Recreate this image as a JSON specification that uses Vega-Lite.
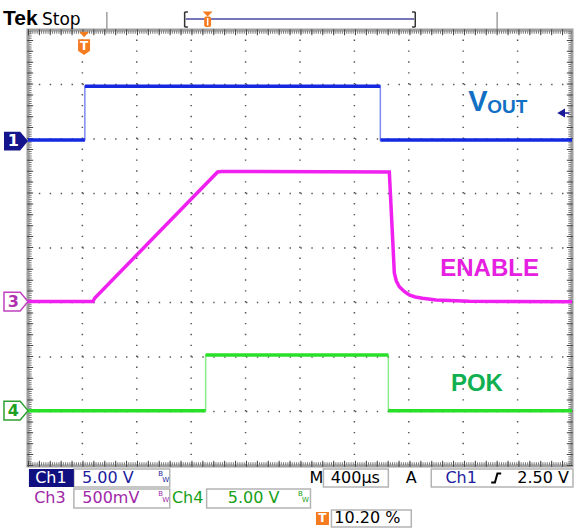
{
  "$schema": "https://vega.github.io/schema/vega-lite/v6.json",
  "width": 580,
  "height": 529,
  "autosize": {"type": "fit", "contains": "padding"},
  "padding": 0,
  "background": "white",
  "config": {"view": {"stroke": null}, "text": {"font": "DejaVu Sans"}},
  "datasets": {
    "traces": [
      {"ch": "CH1", "seg": "a", "i": 0, "x": 0, "y": 5.98},
      {"ch": "CH1", "seg": "a", "i": 1, "x": 1.046, "y": 5.98},
      {"ch": "CH1", "seg": "b", "i": 2, "x": 1.046, "y": 6.97},
      {"ch": "CH1", "seg": "b", "i": 3, "x": 6.477, "y": 6.97},
      {"ch": "CH1", "seg": "c", "i": 4, "x": 6.477, "y": 5.98},
      {"ch": "CH1", "seg": "c", "i": 5, "x": 10, "y": 5.98},
      {"ch": "CH3", "seg": "a", "i": 0, "x": 0, "y": 3.018},
      {"ch": "CH3", "seg": "a", "i": 1, "x": 1.193, "y": 3.018},
      {"ch": "CH3", "seg": "a", "i": 2, "x": 1.229, "y": 3.083},
      {"ch": "CH3", "seg": "a", "i": 3, "x": 3.486, "y": 5.394},
      {"ch": "CH3", "seg": "a", "i": 4, "x": 3.56, "y": 5.404},
      {"ch": "CH3", "seg": "a", "i": 5, "x": 6.642, "y": 5.394},
      {"ch": "CH3", "seg": "a", "i": 6, "x": 6.692, "y": 4.391},
      {"ch": "CH3", "seg": "a", "i": 7, "x": 6.734, "y": 3.541},
      {"ch": "CH3", "seg": "a", "i": 8, "x": 6.771, "y": 3.394},
      {"ch": "CH3", "seg": "a", "i": 9, "x": 6.826, "y": 3.29},
      {"ch": "CH3", "seg": "a", "i": 10, "x": 6.917, "y": 3.202},
      {"ch": "CH3", "seg": "a", "i": 11, "x": 7.009, "y": 3.138},
      {"ch": "CH3", "seg": "a", "i": 12, "x": 7.119, "y": 3.101},
      {"ch": "CH3", "seg": "a", "i": 13, "x": 7.253, "y": 3.077},
      {"ch": "CH3", "seg": "a", "i": 14, "x": 7.499, "y": 3.046},
      {"ch": "CH3", "seg": "a", "i": 15, "x": 8.11, "y": 3.022},
      {"ch": "CH3", "seg": "a", "i": 16, "x": 10, "y": 3.015},
      {"ch": "CH4", "seg": "a", "i": 0, "x": 0, "y": 1.016},
      {"ch": "CH4", "seg": "a", "i": 1, "x": 3.266, "y": 1.016},
      {"ch": "CH4", "seg": "b", "i": 2, "x": 3.266, "y": 2.037},
      {"ch": "CH4", "seg": "b", "i": 3, "x": 6.624, "y": 2.037},
      {"ch": "CH4", "seg": "c", "i": 4, "x": 6.624, "y": 1.016},
      {"ch": "CH4", "seg": "c", "i": 5, "x": 10, "y": 1.016}
    ]
  },
  "encoding": {
    "x": {"field": "x", "type": "quantitative", "scale": {"domain": [-0.51376, 10.12844], "nice": false, "zero": false}, "axis": null},
    "y": {"field": "y", "type": "quantitative", "scale": {"domain": [-1.15596, 8.55046], "nice": false, "zero": false}, "axis": null}
  },
  "layer": [
    {
      "data": {"values": [
        {"x": 1, "y": 0, "x2": 1, "y2": 8}, {"x": 2, "y": 0, "x2": 2, "y2": 8}, {"x": 3, "y": 0, "x2": 3, "y2": 8},
        {"x": 4, "y": 0, "x2": 4, "y2": 8}, {"x": 5, "y": 0, "x2": 5, "y2": 8}, {"x": 6, "y": 0, "x2": 6, "y2": 8},
        {"x": 7, "y": 0, "x2": 7, "y2": 8}, {"x": 8, "y": 0, "x2": 8, "y2": 8}, {"x": 9, "y": 0, "x2": 9, "y2": 8},
        {"x": 0, "y": 1, "x2": 10, "y2": 1}, {"x": 0, "y": 2, "x2": 10, "y2": 2}, {"x": 0, "y": 3, "x2": 10, "y2": 3},
        {"x": 0, "y": 4, "x2": 10, "y2": 4}, {"x": 0, "y": 5, "x2": 10, "y2": 5}, {"x": 0, "y": 6, "x2": 10, "y2": 6},
        {"x": 0, "y": 7, "x2": 10, "y2": 7}
      ]},
      "mark": {"type": "rule", "color": "#555555", "strokeWidth": 1.5, "strokeDash": [1.4, 9.5]},
      "encoding": {"x2": {"field": "x2"}, "y2": {"field": "y2"}}
    },
    {
      "data": {"values": [{"x": 0, "y": 0, "x2": 10, "y2": 8}]},
      "mark": {"type": "rect", "filled": false, "color": "#a0a0a0", "strokeWidth": 3},
      "encoding": {"x2": {"field": "x2"}, "y2": {"field": "y2"}}
    },
    {
      "data": {"values": [
        {"x": 0, "y": 7.96, "x2": 10, "y2": 7.96}, {"x": 0, "y": 0.04, "x2": 10, "y2": 0.04},
        {"x": 0.04, "y": 0, "x2": 0.04, "y2": 8}, {"x": 9.96, "y": 0, "x2": 9.96, "y2": 8}
      ]},
      "mark": {"type": "rule", "color": "#777777", "strokeWidth": 3, "strokeDash": [1, 1.18]},
      "encoding": {"x2": {"field": "x2"}, "y2": {"field": "y2"}}
    },
    {
      "data": {"values": [
        {"x": 0, "y": 7.96, "x2": 10, "y2": 7.96}, {"x": 0, "y": 0.04, "x2": 10, "y2": 0.04},
        {"x": 0.04, "y": 0, "x2": 0.04, "y2": 8}, {"x": 9.96, "y": 0, "x2": 9.96, "y2": 8}
      ]},
      "mark": {"type": "rule", "color": "#444444", "strokeWidth": 6, "strokeDash": [1, 9.9]},
      "encoding": {"x2": {"field": "x2"}, "y2": {"field": "y2"}}
    },
    {
      "data": {"name": "traces"},
      "mark": {"type": "line", "strokeWidth": 1.5},
      "encoding": {
        "color": {"field": "ch", "type": "nominal", "scale": {"domain": ["CH1", "CH3", "CH4"], "range": ["#1428e0", "#f020f0", "#28e028"]}, "legend": null},
        "opacity": {"value": 0.55},
        "order": {"field": "i"}
      }
    },
    {
      "data": {"name": "traces"},
      "mark": {"type": "line", "strokeWidth": 3.5},
      "encoding": {
        "color": {"field": "ch", "type": "nominal", "scale": {"domain": ["CH1", "CH3", "CH4"], "range": ["#1428e0", "#f020f0", "#28e028"]}, "legend": null},
        "detail": {"field": "seg"},
        "order": {"field": "i"}
      }
    },
    {
      "data": {"values": [{"x": 9.8, "y": 6.477}]},
      "mark": {"type": "point", "shape": "triangle-left", "filled": true, "color": "#1a1a9a", "size": 80, "opacity": 1}
    },
    {
      "data": {"values": [{"x": 9.83, "y": 6.477, "x2": 9.95, "y2": 6.477}]},
      "mark": {"type": "rule", "color": "#1a1a9a", "strokeWidth": 1.5},
      "encoding": {"x2": {"field": "x2"}, "y2": {"field": "y2"}}
    },
    {
      "data": {"values": [{"x": -0.22, "y": 5.963}]},
      "mark": {"type": "point", "shape": "M -1 -0.78 L 0.35 -0.78 L 1 0 L 0.35 0.78 L -1 0.78 Z", "filled": true, "color": "#14148c", "size": 576, "opacity": 1}
    },
    {
      "data": {"values": [{"x": -0.22, "y": 3.018}]},
      "mark": {"type": "point", "shape": "M -1 -0.78 L 0.35 -0.78 L 1 0 L 0.35 0.78 L -1 0.78 Z", "filled": true, "fill": "white", "stroke": "#c040c0", "strokeWidth": 1.5, "size": 576, "opacity": 1}
    },
    {
      "data": {"values": [{"x": -0.22, "y": 1.016}]},
      "mark": {"type": "point", "shape": "M -1 -0.78 L 0.35 -0.78 L 1 0 L 0.35 0.78 L -1 0.78 Z", "filled": true, "fill": "white", "stroke": "#30a030", "strokeWidth": 1.5, "size": 576, "opacity": 1}
    },
    {
      "data": {"values": [{"x": -0.27, "y": 5.963, "t": "1"}]},
      "mark": {"type": "text", "color": "white", "fontSize": 16, "fontWeight": "bold", "baseline": "middle", "align": "center"},
      "encoding": {"text": {"field": "t"}}
    },
    {
      "data": {"values": [{"x": -0.27, "y": 3.018, "t": "3"}]},
      "mark": {"type": "text", "color": "#b030b0", "fontSize": 16, "fontWeight": "bold", "baseline": "middle", "align": "center"},
      "encoding": {"text": {"field": "t"}}
    },
    {
      "data": {"values": [{"x": -0.27, "y": 1.016, "t": "4"}]},
      "mark": {"type": "text", "color": "#20a020", "fontSize": 16, "fontWeight": "bold", "baseline": "middle", "align": "center"},
      "encoding": {"text": {"field": "t"}}
    },
    {
      "data": {"values": [{"x": 1.033, "y": 7.917}]},
      "mark": {"type": "point", "shape": "M -1 -0.55 L 1 -0.55 L 0 0.55 Z", "filled": true, "color": "#f47b20", "size": 100, "opacity": 1}
    },
    {
      "data": {"values": [{"x": 1.031, "y": 7.685}]},
      "mark": {"type": "point", "shape": "M -1 -1.3 L 1 -1.3 L 1 0.6 L 0 1.3 L -1 0.6 Z", "filled": true, "color": "#f47b20", "size": 144, "opacity": 1}
    },
    {
      "data": {"values": [{"x": 1.031, "y": 7.70, "t": "T"}]},
      "mark": {"type": "text", "color": "white", "fontSize": 12, "fontWeight": "bold", "baseline": "middle", "align": "center"},
      "encoding": {"text": {"field": "t"}}
    },
    {
      "data": {"values": [{"x": 8.092, "y": 6.514, "t": "V"}]},
      "mark": {"type": "text", "color": "#1270c4", "font": "Liberation Sans", "fontSize": 29, "fontWeight": "bold", "baseline": "alphabetic", "align": "left"},
      "encoding": {"text": {"field": "t"}}
    },
    {
      "data": {"values": [{"x": 8.44, "y": 6.477, "t": "OUT"}]},
      "mark": {"type": "text", "color": "#1270c4", "font": "Liberation Sans", "fontSize": 19, "fontWeight": "bold", "baseline": "alphabetic", "align": "left"},
      "encoding": {"text": {"field": "t"}}
    },
    {
      "data": {"values": [{"x": 7.578, "y": 3.486, "t": "ENABLE"}]},
      "mark": {"type": "text", "color": "#e620e0", "font": "Liberation Sans", "fontSize": 24, "fontWeight": "bold", "baseline": "alphabetic", "align": "left"},
      "encoding": {"text": {"field": "t"}}
    },
    {
      "data": {"values": [{"x": 7.774, "y": 1.382, "t": "POK"}]},
      "mark": {"type": "text", "color": "#10b050", "font": "Liberation Sans", "fontSize": 24, "fontWeight": "bold", "baseline": "alphabetic", "align": "left"},
      "encoding": {"text": {"field": "t"}}
    },
    {
      "data": {"values": [{"x": -0.459, "y": 8.092, "t": "Tek"}]},
      "mark": {"type": "text", "color": "black", "font": "Liberation Sans", "fontSize": 21, "fontWeight": "bold", "baseline": "alphabetic", "align": "left"},
      "encoding": {"text": {"field": "t"}}
    },
    {
      "data": {"values": [{"x": 0.257, "y": 8.092, "t": "Stop"}]},
      "mark": {"type": "text", "color": "black", "fontSize": 17, "baseline": "alphabetic", "align": "left"},
      "encoding": {"text": {"field": "t"}}
    },
    {
      "data": {"values": [
        {"x": 1.45, "y": 8.33, "x2": 1.45, "y2": 8.018},
        {"x": 8.624, "y": 8.33, "x2": 8.624, "y2": 8.018}
      ]},
      "mark": {"type": "rule", "color": "#a0a0a0", "strokeWidth": 1.5},
      "encoding": {"x2": {"field": "x2"}, "y2": {"field": "y2"}}
    },
    {
      "data": {"values": [{"x": 2.9, "y": 8.202, "x2": 7.1, "y2": 8.202}]},
      "mark": {"type": "rule", "color": "#4a4aa0", "strokeWidth": 1.5},
      "encoding": {"x2": {"field": "x2"}, "y2": {"field": "y2"}}
    },
    {
      "data": {"values": [
        {"x": 2.88, "y": 8.33, "x2": 2.88, "y2": 8.055},
        {"x": 2.88, "y": 8.33, "x2": 2.94, "y2": 8.33},
        {"x": 2.88, "y": 8.055, "x2": 2.94, "y2": 8.055},
        {"x": 7.119, "y": 8.33, "x2": 7.119, "y2": 8.055},
        {"x": 7.06, "y": 8.33, "x2": 7.119, "y2": 8.33},
        {"x": 7.06, "y": 8.055, "x2": 7.119, "y2": 8.055}
      ]},
      "mark": {"type": "rule", "color": "#333333", "strokeWidth": 1.5},
      "encoding": {"x2": {"field": "x2"}, "y2": {"field": "y2"}}
    },
    {
      "data": {"values": [{"x": 3.303, "y": 8.294}]},
      "mark": {"type": "point", "shape": "M -1 -0.5 L 1 -0.5 L 0 0.5 Z", "filled": true, "color": "#f47b20", "size": 100, "opacity": 1}
    },
    {
      "data": {"values": [{"x": 3.239, "y": 8.248, "x2": 3.367, "y2": 8.055}]},
      "mark": {"type": "rect", "color": "#f47b20", "cornerRadius": 2},
      "encoding": {"x2": {"field": "x2"}, "y2": {"field": "y2"}}
    },
    {
      "data": {"values": [{"x": 3.303, "y": 8.22, "x2": 3.303, "y2": 8.083}]},
      "mark": {"type": "rule", "color": "white", "strokeWidth": 1.5},
      "encoding": {"x2": {"field": "x2"}, "y2": {"field": "y2"}}
    },
    {
      "data": {"values": [
        {"x": 0.844, "y": -0.055, "x2": 2.606, "y2": -0.385},
        {"x": 5.431, "y": -0.055, "x2": 6.624, "y2": -0.385},
        {"x": 7.413, "y": -0.055, "x2": 10.018, "y2": -0.385},
        {"x": 0.844, "y": -0.422, "x2": 2.606, "y2": -0.771},
        {"x": 3.284, "y": -0.422, "x2": 5.193, "y2": -0.771},
        {"x": 5.578, "y": -0.807, "x2": 7.046, "y2": -1.119}
      ]},
      "mark": {"type": "rect", "fill": "white", "stroke": "#b4b4b4", "strokeWidth": 1.5},
      "encoding": {"x2": {"field": "x2"}, "y2": {"field": "y2"}}
    },
    {
      "data": {"values": [{"x": 0.018, "y": -0.055, "x2": 0.844, "y2": -0.385}]},
      "mark": {"type": "rect", "color": "#101080"},
      "encoding": {"x2": {"field": "x2"}, "y2": {"field": "y2"}}
    },
    {
      "data": {"values": [{"x": 0.422, "y": -0.22, "t": "Ch1"}]},
      "mark": {"type": "text", "color": "white", "fontSize": 16, "baseline": "middle", "align": "center"},
      "encoding": {"text": {"field": "t"}}
    },
    {
      "data": {"values": [{"x": 1.468, "y": -0.22, "t": "5.00 V"}, {"x": 7.963, "y": -0.22, "t": "Ch1"}]},
      "mark": {"type": "text", "color": "#1c1ca0", "fontSize": 16, "baseline": "middle", "align": "center"},
      "encoding": {"text": {"field": "t"}}
    },
    {
      "data": {"values": [
        {"x": 5.303, "y": -0.22, "t": "M"},
        {"x": 6.018, "y": -0.22, "t": "400µs"},
        {"x": 7.046, "y": -0.22, "t": "A"},
        {"x": 9.468, "y": -0.22, "t": "2.50 V"},
        {"x": 6.239, "y": -0.963, "t": "10.20 %"}
      ]},
      "mark": {"type": "text", "color": "black", "fontSize": 16, "baseline": "middle", "align": "center"},
      "encoding": {"text": {"field": "t"}}
    },
    {
      "data": {"values": [{"x": 0.404, "y": -0.596, "t": "Ch3"}, {"x": 1.523, "y": -0.596, "t": "500mV"}]},
      "mark": {"type": "text", "color": "#a028a8", "fontSize": 16, "baseline": "middle", "align": "center"},
      "encoding": {"text": {"field": "t"}}
    },
    {
      "data": {"values": [{"x": 2.936, "y": -0.596, "t": "Ch4"}, {"x": 4.147, "y": -0.596, "t": "5.00 V"}]},
      "mark": {"type": "text", "color": "#18a018", "fontSize": 16, "baseline": "middle", "align": "center"},
      "encoding": {"text": {"field": "t"}}
    },
    {
      "data": {"values": [{"x": 2.44, "y": -0.147, "t": "B"}, {"x": 2.532, "y": -0.257, "t": "W"}]},
      "mark": {"type": "text", "color": "#1c1ca0", "fontSize": 7, "baseline": "middle", "align": "center"},
      "encoding": {"text": {"field": "t"}}
    },
    {
      "data": {"values": [{"x": 2.44, "y": -0.514, "t": "B"}, {"x": 2.532, "y": -0.624, "t": "W"}]},
      "mark": {"type": "text", "color": "#a028a8", "fontSize": 7, "baseline": "middle", "align": "center"},
      "encoding": {"text": {"field": "t"}}
    },
    {
      "data": {"values": [{"x": 5.009, "y": -0.514, "t": "B"}, {"x": 5.101, "y": -0.624, "t": "W"}]},
      "mark": {"type": "text", "color": "#18a018", "fontSize": 7, "baseline": "middle", "align": "center"},
      "encoding": {"text": {"field": "t"}}
    },
    {
      "data": {"values": [{"x": 8.606, "y": -0.22}]},
      "mark": {"type": "point", "shape": "M -1 0.9 L -0.25 0.9 L 0.25 -0.9 L 1 -0.9", "filled": false, "color": "black", "strokeWidth": 2, "size": 100, "opacity": 1}
    },
    {
      "data": {"values": [{"x": 5.413, "y": -0.963}]},
      "mark": {"type": "point", "shape": "square", "filled": true, "color": "#f47b20", "size": 169, "opacity": 1}
    },
    {
      "data": {"values": [{"x": 5.413, "y": -0.963, "t": "T"}]},
      "mark": {"type": "text", "color": "white", "fontSize": 12, "fontWeight": "bold", "baseline": "middle", "align": "center"},
      "encoding": {"text": {"field": "t"}}
    }
  ]
}
